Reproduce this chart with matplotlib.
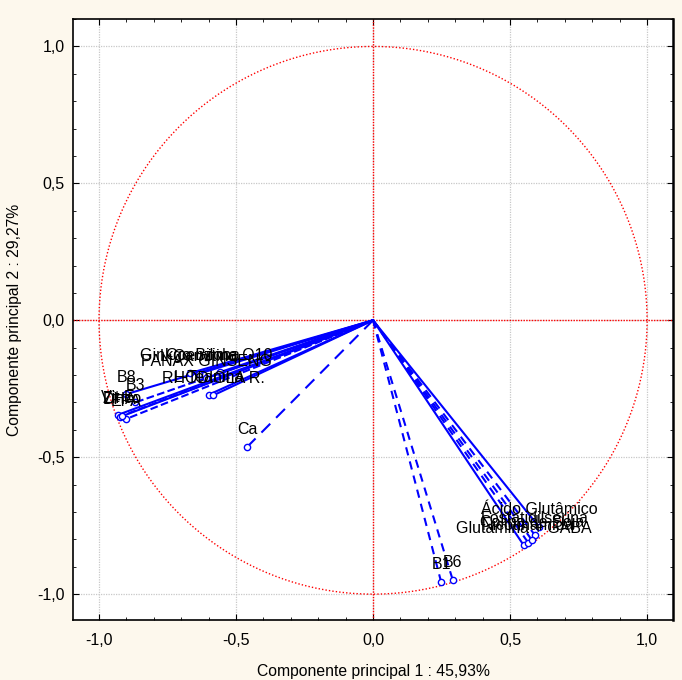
import numpy as np
import matplotlib.pyplot as plt
from matplotlib.ticker import MultipleLocator, FuncFormatter

plt.rcParams['font.family'] = ['Liberation Sans', 'DejaVu Sans']

# Variáveis (cargas nos dois primeiros componentes)
labels = ["B8", "B3", "Vit E", "DHA", "EPA", "Zinco",
          "Ginkgo Biloba", "L-Carnitina", "Coenzima Q10", "PANAX GINSENG",
          "L-Teanina", "RHODIOLA R.", "Ca",
          "B1", "B6",
          "Ácido Glutâmico", "Fosfatidilserina", "Glutamina + GABA",
          "Nicotinamida", "Colina de Soja"]
pc1 = [-0.901, -0.868, -0.930, -0.925, -0.900, -0.915,
       -0.668, -0.635, -0.560, -0.609,
       -0.600, -0.583, -0.459,
       0.248, 0.291,
       0.606, 0.591, 0.550, 0.566, 0.580]
pc2 = [-0.270, -0.300, -0.345, -0.352, -0.360, -0.350,
       -0.193, -0.195, -0.190, -0.212,
       -0.272, -0.274, -0.462,
       -0.954, -0.949,
       -0.755, -0.785, -0.822, -0.812, -0.803]
line_styles = ['-', '--', '-', '--', '--', '-',
               '-', '-', '-', '-',
               '-', '-', (0, (6, 4)),
               (0, (4, 3)), (0, (4, 3)),
               '-', (0, (4, 3)), '-', (0, (4, 3)), (0, (4, 3))]

fig = plt.figure(figsize=(6.82, 6.80), dpi=100, facecolor='#fdf8ed')
ax = fig.add_axes([0.107, 0.088, 0.880, 0.884])
ax.set_facecolor('white')

# círculo unitário e eixos
t = np.linspace(0, 2 * np.pi, 400)
ax.plot(np.cos(t), np.sin(t), color='red', lw=1.0, ls=(0, (1, 1.5)))
ax.axhline(0, color='red', lw=1.0, ls=(0, (1, 1)))
ax.axvline(0, color='red', lw=1.0, ls=(0, (1, 1)))

for x, y, lab, st in zip(pc1, pc2, labels, line_styles):
    ax.plot([0, x], [0, y], color='blue', lw=1.5, ls=st)
    ax.plot(x, y, 'o', ms=4.5, mfc='white', mec='blue', mew=1.0)
    ax.annotate(lab, (x, y), xytext=(0, 7), textcoords='offset points',
                ha='center', va='bottom', fontsize=11.5, color='black')

ax.set_xlim(-1.095, 1.095)
ax.set_ylim(-1.095, 1.10)

ax.xaxis.set_major_locator(MultipleLocator(0.5))
ax.yaxis.set_major_locator(MultipleLocator(0.5))
ax.xaxis.set_minor_locator(MultipleLocator(0.1))
ax.yaxis.set_minor_locator(MultipleLocator(0.1))
fmt = FuncFormatter(lambda v, p: f"{v:.1f}".replace('.', ',').replace('-0,0', '0,0'))
ax.xaxis.set_major_formatter(fmt)
ax.yaxis.set_major_formatter(fmt)
ax.tick_params(which='both', direction='in', top=True, right=True, labelsize=11.5)
ax.tick_params(which='major', length=4)
ax.tick_params(axis='x', which='major', pad=9)
ax.tick_params(axis='y', which='major', pad=6)
ax.tick_params(which='minor', length=2.5)
ax.grid(True, which='major', color='#c8c8c8', ls=(0, (1, 1)), lw=0.9)
ax.set_axisbelow(True)
for s in ax.spines.values():
    s.set_linewidth(1.2)
ax.spines['right'].set_linewidth(1.8)

ax.set_xlabel("Componente principal 1 : 45,93%", fontsize=11.3, labelpad=12)
ax.set_ylabel("Componente principal 2 : 29,27%", fontsize=11.3, labelpad=11)

plt.savefig("out.png", dpi=100, facecolor=fig.get_facecolor())
